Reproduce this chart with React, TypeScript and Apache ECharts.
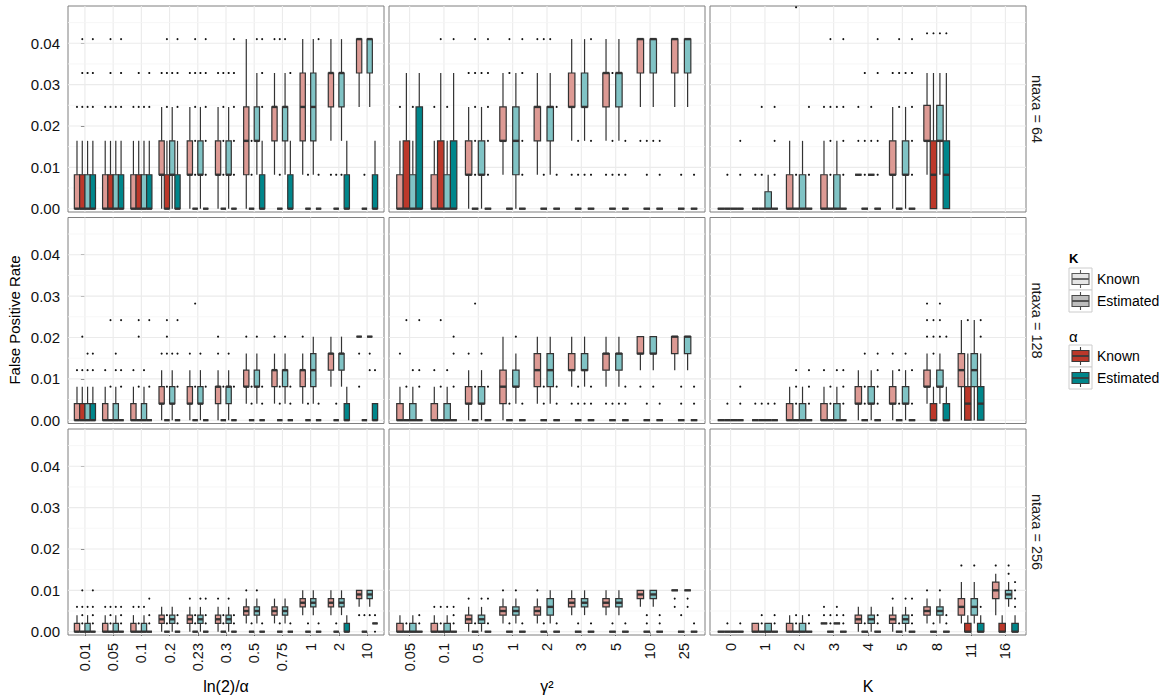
import React, { useEffect, useRef } from "react";
import * as echarts from "echarts";

const FONT = "Liberation Sans, Arial, Helvetica, sans-serif";
const Z = [0, 0, 0, 0, 0];

// categories (x tick labels)
const catsAlpha = ["0.01", "0.05", "0.1", "0.2", "0.23", "0.3", "0.5", "0.75", "1", "2", "10"];
const catsGamma = ["0.05", "0.1", "0.5", "1", "2", "3", "5", "10", "25"];
const catsK = ["0", "1", "2", "3", "4", "5", "8", "11", "16"];

// y ticks
const majorY = [0, 0.01, 0.02, 0.03, 0.04];
const minorY = [0.005, 0.015, 0.025, 0.035, 0.045];

const rowLabels = ["ntaxa = 64", "ntaxa = 128", "ntaxa = 256"];
const xTitles = ["ln(2)/\u03B1", "\u03B3\u00B2", "K"];

// Box stats per category: 4 groups [lo, q1, median, q3, hi]
// group order: K known/α known, K est/α known, K known/α est, K est/α est
const box64Alpha = [
  [[0, 0, 0, 0.0082, 0.0164], [0, 0, 0, 0.0082, 0.0164], [0, 0, 0, 0.0082, 0.0164], [0, 0, 0, 0.0082, 0.0164]],
  [[0, 0, 0, 0.0082, 0.0164], [0, 0, 0, 0.0082, 0.0164], [0, 0, 0, 0.0082, 0.0164], [0, 0, 0, 0.0082, 0.0164]],
  [[0, 0, 0, 0.0082, 0.0164], [0, 0, 0, 0.0082, 0.0164], [0, 0, 0, 0.0082, 0.0164], [0, 0, 0, 0.0082, 0.0164]],
  [[0, 0.0082, 0.0082, 0.0164, 0.0246], [0, 0, 0, 0.0082, 0.0164], [0, 0.0082, 0.0082, 0.0164, 0.0246], [0, 0, 0, 0.0082, 0.0164]],
  [[0, 0.0082, 0.0082, 0.0164, 0.0246], Z, [0, 0.0082, 0.0082, 0.0164, 0.0246], Z],
  [[0, 0.0082, 0.0082, 0.0164, 0.0246], Z, [0, 0.0082, 0.0082, 0.0164, 0.0246], Z],
  [[0, 0.0082, 0.0164, 0.0246, 0.041], Z, [0.0082, 0.0164, 0.0164, 0.0246, 0.0328], [0, 0, 0, 0.0082, 0.0164]],
  [[0.0082, 0.0164, 0.0246, 0.0246, 0.0328], Z, [0.0082, 0.0164, 0.0246, 0.0246, 0.0328], [0, 0, 0, 0.0082, 0.0164]],
  [[0.0082, 0.0164, 0.0246, 0.0328, 0.041], Z, [0.0082, 0.0164, 0.0246, 0.0328, 0.041], Z],
  [[0.0164, 0.0246, 0.0328, 0.0328, 0.041], Z, [0.0164, 0.0246, 0.0328, 0.0328, 0.041], [0, 0, 0, 0.0082, 0.0164]],
  [[0.0246, 0.0328, 0.041, 0.041, 0.041], Z, [0.0246, 0.0328, 0.041, 0.041, 0.041], [0, 0, 0, 0.0082, 0.0164]],
];
const out64Alpha = [
  [[0.0246], [0.0246, 0.0328, 0.041], [0.0246, 0.0328], [0.0246, 0.0328, 0.041]],
  [[0.0246], [0.0246, 0.0328, 0.041], [0.0246], [0.0246, 0.0328, 0.041]],
  [[0.0246], [0.0246, 0.0328], [0.0246], [0.0246, 0.0328]],
  [[0.0328], [0.0246, 0.0328, 0.041], [0.0328], [0.0246, 0.0328, 0.041]],
  [[0.0328], [0.0082, 0.0164, 0.0246, 0.0328, 0.041], [0.0328], [0.0082, 0.0164, 0.0246, 0.0328, 0.041]],
  [[0.0328], [0.0082, 0.0164, 0.0246, 0.0328], [0.0328], [0.0082, 0.0164, 0.0246, 0.0328, 0.041]],
  [[], [0.0082, 0.0164], [0.041], [0.0246, 0.0328, 0.041]],
  [[0.041], [0.0082, 0.041], [0.041], [0.0328]],
  [[], [0.0082], [], [0.0082, 0.041]],
  [[0.0082], [0.0082], [0.0082], []],
  [[], [0.0082], [], []],
];

const box64Gamma = [
  [[0, 0, 0, 0.0082, 0.0164], [0, 0, 0, 0.0164, 0.0328], [0, 0, 0, 0.0082, 0.0164], [0, 0, 0, 0.0246, 0.0328]],
  [[0, 0, 0, 0.0082, 0.0164], [0, 0, 0, 0.0164, 0.0328], [0, 0, 0, 0.0082, 0.0164], [0, 0, 0, 0.0164, 0.0328]],
  [[0, 0.0082, 0.0082, 0.0164, 0.0246], Z, [0, 0.0082, 0.0082, 0.0164, 0.0246], Z],
  [[0.0082, 0.0164, 0.0164, 0.0246, 0.0328], Z, [0, 0.0082, 0.0164, 0.0246, 0.0328], Z],
  [[0.0082, 0.0164, 0.0246, 0.0246, 0.0328], Z, [0.0082, 0.0164, 0.0246, 0.0246, 0.0328], Z],
  [[0.0164, 0.0246, 0.0246, 0.0328, 0.041], Z, [0.0164, 0.0246, 0.0246, 0.0328, 0.041], Z],
  [[0.0164, 0.0246, 0.0328, 0.0328, 0.041], Z, [0.0164, 0.0246, 0.0328, 0.0328, 0.041], Z],
  [[0.0246, 0.0328, 0.041, 0.041, 0.041], Z, [0.0246, 0.0328, 0.041, 0.041, 0.041], Z],
  [[0.0246, 0.0328, 0.041, 0.041, 0.041], Z, [0.0246, 0.0328, 0.041, 0.041, 0.041], Z],
];
const out64Gamma = [
  [[0.0246], [], [0.0246], []],
  [[0.0246], [0.041], [0.0246], [0.041]],
  [[0.0328], [0.0082, 0.0164, 0.0246, 0.0328, 0.041], [0.0328], [0.0082, 0.0164, 0.0246, 0.0328, 0.041]],
  [[], [0.0328, 0.041], [], [0.0082, 0.0164, 0.0328, 0.041]],
  [[0.041], [0.0082, 0.041], [0.041], [0.0082, 0.0246]],
  [[0.0082], [0.0082, 0.0164], [0.0082], [0.0082, 0.0164, 0.041]],
  [[0.0082], [0.0082, 0.0164, 0.0328], [0.0082], [0.0082, 0.0164]],
  [[0.0164], [0.0082, 0.0164], [0.0164], [0.0082, 0.0164]],
  [[], [0.0082], [], [0.0082]],
];

const box64K = [
  [Z, Z, Z, Z],
  [Z, Z, [0, 0, 0, 0.0041, 0.0082], Z],
  [[0, 0, 0, 0.0082, 0.0164], Z, [0, 0, 0, 0.0082, 0.0164], Z],
  [[0, 0, 0, 0.0082, 0.0164], Z, [0, 0, 0, 0.0082, 0.0164], Z],
  [[0.0082, 0.0082, 0.0082, 0.0082, 0.0082], Z, [0.0082, 0.0082, 0.0082, 0.0082, 0.0082], Z],
  [[0, 0.0082, 0.0082, 0.0164, 0.0246], Z, [0, 0.0082, 0.0082, 0.0164, 0.0246], Z],
  [[0.0082, 0.0164, 0.0164, 0.025, 0.0328], [0, 0, 0.0082, 0.0164, 0.0328], [0.0082, 0.0164, 0.0164, 0.025, 0.0328], [0, 0, 0.0082, 0.0164, 0.0328]],
  null,
  null,
];
const out64K = [
  [[], [0.0082], [], [0.0082, 0.0164]],
  [[0.0082], [0.0082, 0.0246], [], [0.0082, 0.0164, 0.0246]],
  [[], [0.0082, 0.0487], [], [0.0082, 0.0246]],
  [[0.0246], [0.0082, 0.0164, 0.0246, 0.041], [0.0246], [0.0082, 0.0164, 0.0246, 0.041]],
  [[0.0164, 0.0246], [0.0082, 0.0164, 0.0328], [0.0164, 0.0246], [0.0082, 0.0164, 0.0328, 0.041]],
  [[0.0328], [0.0246, 0.0328, 0.041], [0.0328], [0.0082, 0.0164, 0.0246, 0.0328, 0.041]],
  [[0.0424], [0.0424], [0.0424], [0.0424]],
  null,
  null,
];

const box128Alpha = [
  [[0, 0, 0, 0.004, 0.0081], [0, 0, 0, 0.004, 0.0081], [0, 0, 0, 0.004, 0.0081], [0, 0, 0, 0.004, 0.0081]],
  [[0, 0, 0, 0.004, 0.0081], Z, [0, 0, 0, 0.004, 0.0081], Z],
  [[0, 0, 0, 0.004, 0.0081], Z, [0, 0, 0, 0.004, 0.0081], Z],
  [[0, 0.004, 0.004, 0.0081, 0.0121], Z, [0, 0.004, 0.004, 0.0081, 0.0121], Z],
  [[0, 0.004, 0.004, 0.0081, 0.0121], Z, [0, 0.004, 0.004, 0.0081, 0.0121], Z],
  [[0, 0.004, 0.0081, 0.0081, 0.0121], Z, [0, 0.004, 0.0081, 0.0081, 0.0121], Z],
  [[0.004, 0.0081, 0.0081, 0.0121, 0.0161], Z, [0.004, 0.0081, 0.0081, 0.0121, 0.0161], Z],
  [[0.004, 0.0081, 0.0121, 0.0121, 0.0161], Z, [0.004, 0.0081, 0.0121, 0.0121, 0.0161], Z],
  [[0.004, 0.0081, 0.0121, 0.0121, 0.0161], Z, [0.004, 0.0081, 0.0121, 0.0161, 0.0202], Z],
  [[0.0081, 0.0121, 0.0161, 0.0161, 0.0202], Z, [0.0081, 0.0121, 0.0161, 0.0161, 0.0202], [0, 0, 0, 0.004, 0.0081]],
  [[0.0202, 0.0202, 0.0202, 0.0202, 0.0202], Z, [0.0202, 0.0202, 0.0202, 0.0202, 0.0202], [0, 0, 0, 0.004, 0.004]],
];
const out128Alpha = [
  [[0.0121], [0.0121, 0.0202], [0.0121, 0.0161], [0.0121, 0.0161]],
  [[0.0121], [0.0081, 0.0242], [0.0121, 0.0161], [0.0081, 0.0121, 0.0242]],
  [[0.0121], [0.0081, 0.0202, 0.0242], [0.0121], [0.0081, 0.0242]],
  [[0.0161], [0.0081, 0.0161, 0.0202, 0.0242], [0.0161], [0.0081, 0.0161, 0.0242]],
  [[0.0161], [0.0081, 0.0282], [0.0161], [0.0081]],
  [[0.0161, 0.0202], [0.0081], [0.0161], [0.0081]],
  [[0.0202], [0.004, 0.0081], [0.0202], [0.004, 0.0081]],
  [[0.0202], [0.004, 0.0081], [0.0202], [0.004, 0.0081]],
  [[0.0202], [0.004], [], [0.004]],
  [[], [0.004], [], []],
  [[0.0081, 0.0161], [], [0.0121, 0.0161], [0.0121]],
];

const box128Gamma = [
  [[0, 0, 0, 0.004, 0.0081], Z, [0, 0, 0, 0.004, 0.0081], Z],
  [[0, 0, 0, 0.004, 0.0081], Z, [0, 0, 0, 0.004, 0.0081], Z],
  [[0, 0.004, 0.004, 0.0081, 0.0121], Z, [0, 0.004, 0.004, 0.0081, 0.0121], Z],
  [[0, 0.004, 0.0081, 0.0121, 0.0202], Z, [0.004, 0.0081, 0.0081, 0.0121, 0.0161], Z],
  [[0.004, 0.0081, 0.0121, 0.0161, 0.0202], Z, [0.004, 0.0081, 0.0121, 0.0161, 0.0202], Z],
  [[0.0081, 0.0121, 0.0121, 0.0161, 0.0202], Z, [0.0081, 0.0121, 0.0121, 0.0161, 0.0202], Z],
  [[0.0081, 0.0121, 0.0161, 0.0161, 0.0202], Z, [0.0081, 0.0121, 0.0161, 0.0161, 0.0202], Z],
  [[0.0121, 0.0161, 0.0161, 0.0202, 0.0202], Z, [0.0121, 0.0161, 0.0161, 0.0202, 0.0202], Z],
  [[0.0121, 0.0161, 0.0202, 0.0202, 0.0202], Z, [0.0121, 0.0161, 0.0202, 0.0202, 0.0202], Z],
];
const out128Gamma = [
  [[0.0161], [0.0081, 0.0242], [0.0121], [0.0081, 0.0121, 0.0242]],
  [[0.0121], [0.0081, 0.0242], [0.0121], [0.0081, 0.0161, 0.0202]],
  [[0.0161], [0.0081, 0.0282], [0.0161], [0.0081]],
  [[], [0.004], [0.0202], [0.004]],
  [[], [0.004, 0.0081], [], [0.004, 0.0081]],
  [[0.004], [0.004, 0.0081], [0.004], [0.004, 0.0081]],
  [[0.004], [0.004], [0.004], [0.004, 0.0081]],
  [[0.0081], [0.004], [0.0081], [0.004]],
  [[], [0.004, 0.0081], [], [0.004, 0.0081]],
];

const box128K = [
  [Z, Z, Z, Z],
  [Z, Z, Z, Z],
  [[0, 0, 0, 0.004, 0.0081], Z, [0, 0, 0, 0.004, 0.0081], Z],
  [[0, 0, 0, 0.004, 0.0081], Z, [0, 0, 0, 0.004, 0.0081], Z],
  [[0, 0.004, 0.004, 0.0081, 0.0121], Z, [0, 0.004, 0.004, 0.0081, 0.0121], Z],
  [[0, 0.004, 0.004, 0.0081, 0.0121], Z, [0, 0.004, 0.004, 0.0081, 0.0121], Z],
  [[0.004, 0.0081, 0.0081, 0.0121, 0.0161], [0, 0, 0, 0.004, 0.0081], [0.004, 0.0081, 0.0081, 0.0121, 0.0161], [0, 0, 0, 0.004, 0.0081]],
  [[0, 0.0081, 0.0121, 0.0161, 0.0242], [0, 0, 0.004, 0.0081, 0.0161], [0, 0.0081, 0.0121, 0.0161, 0.0242], [0, 0, 0.004, 0.0081, 0.0161]],
  null,
];
const out128K = [
  [[], [0.004], [], [0.004, 0.0081]],
  [[0.004], [0.004], [0.004], [0.004]],
  [[], [0.004, 0.0081, 0.0121], [], [0.004, 0.0081, 0.0121]],
  [[0.0121], [0.004, 0.0081], [0.0121], [0.004, 0.0081, 0.0121]],
  [[], [0.004, 0.0081, 0.0161], [], [0.004, 0.0081, 0.0121, 0.0161]],
  [[0.0161], [0.004, 0.0121], [0.0161], [0.004, 0.0121]],
  [[0.0202, 0.0242, 0.0282], [0.0161, 0.0202, 0.0242], [0.0202, 0.0242, 0.0282], [0.0202]],
  [[], [0.0242], [], [0.0202, 0.0242]],
  null,
];

const box256Alpha = [
  [[0, 0, 0, 0.002, 0.004], Z, [0, 0, 0, 0.002, 0.004], Z],
  [[0, 0, 0, 0.002, 0.004], Z, [0, 0, 0, 0.002, 0.004], Z],
  [[0, 0, 0, 0.002, 0.004], Z, [0, 0, 0, 0.002, 0.004], Z],
  [[0, 0.002, 0.003, 0.004, 0.006], Z, [0, 0.002, 0.003, 0.004, 0.006], Z],
  [[0, 0.002, 0.003, 0.004, 0.006], Z, [0, 0.002, 0.003, 0.004, 0.006], Z],
  [[0, 0.002, 0.003, 0.004, 0.006], Z, [0, 0.002, 0.003, 0.004, 0.006], Z],
  [[0.002, 0.004, 0.005, 0.006, 0.008], Z, [0.002, 0.004, 0.005, 0.006, 0.008], Z],
  [[0.002, 0.004, 0.005, 0.006, 0.008], Z, [0.002, 0.004, 0.005, 0.006, 0.008], Z],
  [[0.004, 0.006, 0.007, 0.008, 0.01], Z, [0.004, 0.006, 0.007, 0.008, 0.01], Z],
  [[0.004, 0.006, 0.007, 0.008, 0.01], Z, [0.004, 0.006, 0.007, 0.008, 0.01], [0, 0, 0, 0.002, 0.004]],
  [[0.006, 0.008, 0.009, 0.01, 0.01], Z, [0.006, 0.008, 0.009, 0.01, 0.01], [0.002, 0.002, 0.002, 0.002, 0.002]],
];
const out256Alpha = [
  [[0.006], [0.002, 0.004, 0.006, 0.01], [0.006], [0.002, 0.004, 0.006, 0.01]],
  [[0.006], [0.002, 0.004, 0.006], [0.006], [0.002, 0.004, 0.006]],
  [[0.006], [0.002, 0.006], [0.006], [0.002, 0.004, 0.008]],
  [[], [0.002, 0.004], [], [0.002, 0.004]],
  [[0.008], [0.002, 0.004], [0.008], [0.002, 0.004, 0.008]],
  [[0.008], [0.002, 0.004], [0.008], [0.002, 0.004]],
  [[0.01], [0.002], [0.01], [0.002]],
  [[], [0.002], [], [0.002]],
  [[], [0.002], [], [0.002]],
  [[], [0.002], [], []],
  [[0.004], [0.004], [0.004], [0, 0.004]],
];

const box256Gamma = [
  [[0, 0, 0, 0.002, 0.004], Z, [0, 0, 0, 0.002, 0.004], Z],
  [[0, 0, 0, 0.002, 0.004], Z, [0, 0, 0, 0.002, 0.004], Z],
  [[0, 0.002, 0.003, 0.004, 0.006], Z, [0, 0.002, 0.003, 0.004, 0.006], Z],
  [[0.002, 0.004, 0.005, 0.006, 0.008], Z, [0.002, 0.004, 0.005, 0.006, 0.008], Z],
  [[0.002, 0.004, 0.005, 0.006, 0.008], Z, [0.002, 0.004, 0.006, 0.008, 0.01], Z],
  [[0.004, 0.006, 0.007, 0.008, 0.01], Z, [0.004, 0.006, 0.007, 0.008, 0.01], Z],
  [[0.004, 0.006, 0.007, 0.008, 0.01], Z, [0.004, 0.006, 0.007, 0.008, 0.01], Z],
  [[0.006, 0.008, 0.009, 0.01, 0.01], Z, [0.006, 0.008, 0.009, 0.01, 0.01], Z],
  [[0.01, 0.01, 0.01, 0.01, 0.01], Z, [0.01, 0.01, 0.01, 0.01, 0.01], Z],
];
const out256Gamma = [
  [[], [0.002], [], [0.002, 0.004]],
  [[0.006], [0.002, 0.006], [0.006], [0.002, 0.004, 0.006]],
  [[0.008], [0.002], [0.008], [0.002, 0.008]],
  [[0.01], [0.002], [0.01], [0.002]],
  [[0.01], [0.002], [], [0.002]],
  [[], [0.002], [], [0.002]],
  [[], [0.002], [], [0.002]],
  [[], [0.002, 0.004], [], [0.002, 0.004]],
  [[0.006, 0.008], [0.004], [0.006, 0.008], [0.002]],
];

const box256K = [
  [Z, Z, Z, Z],
  [[0, 0, 0, 0.002, 0.002], Z, [0, 0, 0, 0.002, 0.002], Z],
  [[0, 0, 0, 0.002, 0.004], Z, [0, 0, 0, 0.002, 0.004], Z],
  [[0.002, 0.002, 0.002, 0.002, 0.002], Z, [0.002, 0.002, 0.002, 0.002, 0.002], Z],
  [[0, 0.002, 0.003, 0.004, 0.006], Z, [0, 0.002, 0.003, 0.004, 0.006], Z],
  [[0, 0.002, 0.003, 0.004, 0.006], Z, [0, 0.002, 0.003, 0.004, 0.006], Z],
  [[0.002, 0.004, 0.005, 0.006, 0.008], Z, [0.002, 0.004, 0.005, 0.006, 0.008], Z],
  [[0.002, 0.004, 0.006, 0.008, 0.012], [0, 0, 0, 0.002, 0.004], [0.002, 0.004, 0.006, 0.008, 0.012], [0, 0, 0, 0.002, 0.004]],
  [[0.004, 0.008, 0.01, 0.012, 0.014], [0, 0, 0, 0.002, 0.004], [0.006, 0.008, 0.009, 0.01, 0.012], [0, 0, 0, 0.002, 0.004]],
];
const out256K = [
  [[], [0.002], [], [0.002]],
  [[], [0.002, 0.004], [], [0.002, 0.004]],
  [[], [0.002, 0.004], [], [0.002, 0.004]],
  [[0.004, 0.006], [0.002, 0.004], [0.004, 0.006], [0.002, 0.004]],
  [[], [0.002], [], [0.002, 0.004]],
  [[0.008], [0.002], [0.008], [0.002, 0.004, 0.008]],
  [[0.01], [0.002], [0.01], [0.002, 0.004]],
  [[0.016], [], [0.016], [0.006]],
  [[0.016], [], [0.014, 0.016], [0.006, 0.008, 0.01, 0.012]],
];

const FILLS = ["#DD9A94", "#BC382A", "#80C3C5", "#00868B"];
const BOXW = 0.1875;
const GRID_LEFT = [68, 389, 710];
const GRID_TOP = [6, 217.5, 429];
const GRID_W = 316;
const GRID_H = 206;

const panels = [
  { row: 0, col: 0, cats: catsAlpha, boxes: box64Alpha, outs: out64Alpha },
  { row: 0, col: 1, cats: catsGamma, boxes: box64Gamma, outs: out64Gamma },
  { row: 0, col: 2, cats: catsK, boxes: box64K, outs: out64K },
  { row: 1, col: 0, cats: catsAlpha, boxes: box128Alpha, outs: out128Alpha },
  { row: 1, col: 1, cats: catsGamma, boxes: box128Gamma, outs: out128Gamma },
  { row: 1, col: 2, cats: catsK, boxes: box128K, outs: out128K },
  { row: 2, col: 0, cats: catsAlpha, boxes: box256Alpha, outs: out256Alpha },
  { row: 2, col: 1, cats: catsGamma, boxes: box256Gamma, outs: out256Gamma },
  { row: 2, col: 2, cats: catsK, boxes: box256K, outs: out256K },
];

const STROKE = "#333333";

const renderGridLines = (params: any, api: any) => {
  const kind = api.value(0);
  const v = api.value(1);
  const cs = params.coordSys;
  if (kind === 0) {
    const x = api.coord([v, 0])[0];
    return { type: "line", silent: true, shape: { x1: x, y1: cs.y, x2: x, y2: cs.y + cs.height }, style: { stroke: "#EBEBEB", lineWidth: 1.1 } };
  }
  const y = api.coord([0, v])[1];
  return {
    type: "line",
    silent: true,
    shape: { x1: cs.x, y1: y, x2: cs.x + cs.width, y2: y },
    style: { stroke: kind === 1 ? "#EBEBEB" : "#F5F5F5", lineWidth: kind === 1 ? 1.1 : 0.8 },
  };
};

const renderBox = (params: any, api: any) => {
  const cat = api.value(0);
  const slot = api.value(1);
  const unit = api.size([1, 0])[0];
  const w = unit * BOXW;
  const x = api.coord([cat + (slot - 1.5) * BOXW, 0])[0];
  const py = (v: number) => api.coord([cat, v])[1];
  const lo = py(api.value(2));
  const q1 = py(api.value(3));
  const med = py(api.value(4));
  const q3 = py(api.value(5));
  const hi = py(api.value(6));
  return {
    type: "group",
    children: [
      { type: "line", shape: { x1: x, y1: hi, x2: x, y2: q3 }, style: { stroke: STROKE, lineWidth: 1.2 } },
      { type: "line", shape: { x1: x, y1: q1, x2: x, y2: lo }, style: { stroke: STROKE, lineWidth: 1.2 } },
      {
        type: "rect",
        shape: { x: x - w / 2, y: q3, width: w, height: Math.max(q1 - q3, 0) },
        style: { fill: FILLS[slot], stroke: STROKE, lineWidth: 1.2 },
      },
      { type: "line", shape: { x1: x - w / 2, y1: med, x2: x + w / 2, y2: med }, style: { stroke: STROKE, lineWidth: 2.4 } },
    ],
  };
};

const renderOutlier = (params: any, api: any) => {
  const cat = api.value(0);
  const slot = api.value(1);
  const p = api.coord([cat + (slot - 1.5) * BOXW, api.value(2)]);
  return { type: "circle", shape: { cx: p[0], cy: p[1], r: 1.05 }, style: { fill: "#111111" } };
};

function buildOption() {
  const grid: any[] = [];
  const xAxis: any[] = [];
  const yAxis: any[] = [];
  const series: any[] = [];

  panels.forEach((p, g) => {
    const n = p.cats.length;
    const idx = p.cats.map((_, i) => i);
    grid.push({
      left: GRID_LEFT[p.col],
      top: GRID_TOP[p.row],
      width: GRID_W,
      height: GRID_H,
      show: true,
      borderColor: "#7F7F7F",
      borderWidth: 1,
      backgroundColor: "#FFFFFF",
      containLabel: false,
    });
    const bottom = p.row === 2;
    const left = p.col === 0;
    xAxis.push({
      gridIndex: g,
      type: "value",
      min: -0.6,
      max: n - 0.4,
      splitLine: { show: false },
      axisLine: { show: false },
      axisTick: { show: bottom, customValues: idx, length: 4, lineStyle: { color: STROKE, width: 1 } },
      axisLabel: {
        show: bottom,
        customValues: idx,
        formatter: (v: number) => p.cats[Math.round(v)] ?? "",
        rotate: 90,
        fontSize: 14.5,
        color: "#111111",
        fontFamily: FONT,
        margin: 8,
      },
    });
    yAxis.push({
      gridIndex: g,
      type: "value",
      min: -0.0008,
      max: 0.049,
      splitLine: { show: false },
      axisLine: { show: false },
      axisTick: { show: left, customValues: majorY, length: 4, lineStyle: { color: STROKE, width: 1 } },
      axisLabel: {
        show: left,
        customValues: majorY,
        formatter: (v: number) => v.toFixed(2),
        fontSize: 15,
        color: "#111111",
        fontFamily: FONT,
        margin: 8,
      },
    });

    const gridData: number[][] = [];
    idx.forEach((i) => gridData.push([0, i]));
    majorY.forEach((v) => gridData.push([1, v]));
    minorY.forEach((v) => gridData.push([2, v]));
    series.push({
      type: "custom",
      xAxisIndex: g,
      yAxisIndex: g,
      silent: true,
      z: 1,
      renderItem: renderGridLines,
      data: gridData,
    });

    const boxData: number[][] = [];
    p.boxes.forEach((catBoxes: any, i: number) => {
      if (!catBoxes) return;
      catBoxes.forEach((b: number[], s: number) => boxData.push([i, s, b[0], b[1], b[2], b[3], b[4]]));
    });
    series.push({
      type: "custom",
      xAxisIndex: g,
      yAxisIndex: g,
      silent: true,
      z: 2,
      renderItem: renderBox,
      data: boxData,
    });

    const outData: number[][] = [];
    p.outs.forEach((catOuts: any, i: number) => {
      if (!catOuts) return;
      catOuts.forEach((vals: number[], s: number) => vals.forEach((v) => outData.push([i, s, v])));
    });
    series.push({
      type: "custom",
      xAxisIndex: g,
      yAxisIndex: g,
      silent: true,
      z: 3,
      renderItem: renderOutlier,
      data: outData,
    });
  });

  const graphic: any[] = [];
  // y title
  graphic.push({
    type: "text",
    x: 14,
    y: 320,
    rotation: Math.PI / 2,
    style: { text: "False Positive Rate", fontSize: 15, fill: "#000", align: "center", verticalAlign: "middle", fontFamily: FONT },
  });
  // x titles
  xTitles.forEach((t, c) => {
    graphic.push({
      type: "text",
      x: GRID_LEFT[c] + GRID_W / 2,
      y: 686,
      style: { text: t, fontSize: 16, fill: "#000", align: "center", verticalAlign: "middle", fontFamily: FONT },
    });
  });
  // strip labels
  rowLabels.forEach((t, r) => {
    graphic.push({
      type: "text",
      x: 1037,
      y: GRID_TOP[r] + GRID_H / 2,
      rotation: -Math.PI / 2,
      style: { text: t, fontSize: 14.5, fill: "#1A1A1A", align: "center", verticalAlign: "middle", fontFamily: FONT },
    });
  });
  // legend
  graphic.push({
    type: "text",
    x: 1069,
    y: 258,
    style: { text: "K", fontSize: 13, fontWeight: "bold", fill: "#000", align: "left", verticalAlign: "middle", fontFamily: FONT },
  });
  graphic.push({
    type: "text",
    x: 1069,
    y: 336,
    style: { text: "\u03B1", fontSize: 15, fill: "#000", align: "left", verticalAlign: "middle", fontFamily: FONT },
  });
  const keys = [
    { y0: 268, fill: "#E6E6E6", stroke: "#5A5A5A", label: "Known" },
    { y0: 290, fill: "#BDBDBD", stroke: "#4A4A4A", label: "Estimated" },
    { y0: 345, fill: FILLS[1], stroke: "#3A3A3A", label: "Known" },
    { y0: 367, fill: FILLS[3], stroke: "#3A3A3A", label: "Estimated" },
  ];
  keys.forEach((k) => {
    const x0 = 1069;
    graphic.push({ type: "rect", shape: { x: x0, y: k.y0, width: 23, height: 22 }, style: { fill: "#FFFFFF", stroke: "#CCCCCC", lineWidth: 1 } });
    graphic.push({ type: "line", shape: { x1: x0 + 11.5, y1: k.y0 + 2, x2: x0 + 11.5, y2: k.y0 + 20 }, style: { stroke: k.stroke, lineWidth: 1.1 } });
    graphic.push({ type: "rect", shape: { x: x0 + 3, y: k.y0 + 5.5, width: 17, height: 11 }, style: { fill: k.fill, stroke: k.stroke, lineWidth: 1.1 } });
    graphic.push({ type: "line", shape: { x1: x0 + 3, y1: k.y0 + 11, x2: x0 + 20, y2: k.y0 + 11 }, style: { stroke: k.stroke, lineWidth: 1.8 } });
    graphic.push({
      type: "text",
      x: 1097,
      y: k.y0 + 11,
      style: { text: k.label, fontSize: 14, fill: "#000", align: "left", verticalAlign: "middle", fontFamily: FONT },
    });
  });

  return {
    animation: false,
    backgroundColor: "#FFFFFF",
    textStyle: { fontFamily: FONT },
    grid,
    xAxis,
    yAxis,
    series,
    graphic,
  };
}

export default function App() {
  const ref = useRef<HTMLDivElement>(null);
  useEffect(() => {
    document.body.style.margin = "0";
    if (!ref.current) return;
    const chart = echarts.init(ref.current, undefined, { renderer: "svg" });
    chart.setOption(buildOption() as any);
    return () => chart.dispose();
  }, []);
  return <div ref={ref} style={{ width: 1163, height: 698 }} />;
}
